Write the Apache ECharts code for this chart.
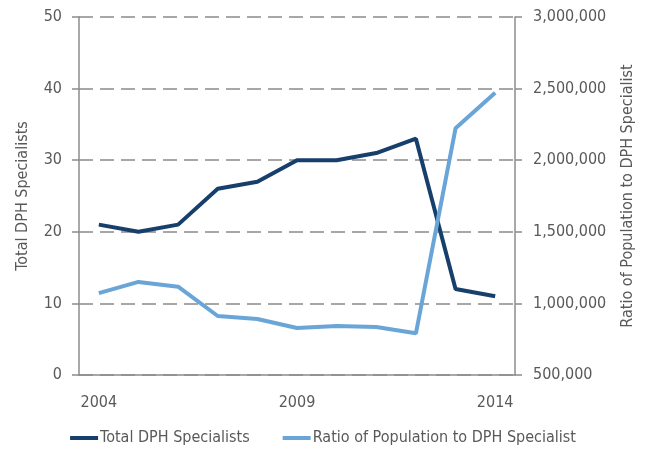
<!DOCTYPE html>
<html>
<head>
<meta charset="utf-8">
<script src="https://cdn.jsdelivr.net/npm/echarts@6/dist/echarts.min.js"></script>
<style>
  html, body { margin: 0; padding: 0; background: #fff; }
  #chart { width: 646px; height: 454px; }
</style>
</head>
<body>
<div id="chart"></div>
<script>
var years = ['2004', '2005', '2006', '2007', '2008', '2009', '2010', '2011', '2012', '2013', '2014']
var totalSpecialists = [21, 20, 21, 26, 27, 30, 30, 31, 33, 12, 11]
var populationRatio = [1072000, 1150000, 1117000, 912000, 891000, 828000, 842000, 835000, 791000, 2223000, 2471000]

var font = '"Liberation Sans Narrow", "DejaVu Sans Condensed", sans-serif'
var textColor = '#595959'
var axisColor = '#8c8c8c'

var chart = echarts.init(document.getElementById('chart'))
chart.setOption({
  animation: false,
  textStyle: { fontFamily: font, color: textColor },
  grid: { left: 79, right: 131, top: 17, bottom: 79 },
  legend: {
    bottom: 3,
    left: 'center',
    icon: 'rect',
    itemWidth: 28,
    itemHeight: 4,
    itemGap: 33,
    textStyle: { fontFamily: font, fontSize: 16, color: textColor, padding: [0, 0, 0, -3] },
    data: ['Total DPH Specialists', 'Ratio of Population to DPH Specialist']
  },
  xAxis: {
    type: 'category',
    data: years,
    boundaryGap: true,
    axisLine: { lineStyle: { color: axisColor, width: 1.5 } },
    axisTick: { interval: 4, length: 7, lineStyle: { color: axisColor, width: 1.5 } },
    axisLabel: { interval: 4, margin: 20, fontSize: 16, color: textColor, fontFamily: font }
  },
  yAxis: [{
    type: 'value',
    min: 0,
    max: 50,
    interval: 10,
    name: 'Total DPH Specialists',
    nameLocation: 'middle',
    nameGap: 48,
    nameTextStyle: { fontSize: 16, color: textColor, fontFamily: font },
    axisLine: { show: true, lineStyle: { color: axisColor, width: 1.5 } },
    axisTick: { show: true, length: 7, lineStyle: { color: axisColor, width: 1.5 } },
    axisLabel: { margin: 17, fontSize: 16, color: textColor, fontFamily: font },
    splitLine: { lineStyle: { color: '#8a8a8a', width: 1.5, type: [14, 7] } }
  }, {
    type: 'value',
    min: 500000,
    max: 3000000,
    interval: 500000,
    name: 'Ratio of Population to DPH Specialist',
    nameLocation: 'middle',
    nameGap: 105,
    nameRotate: 90,
    nameTextStyle: { fontSize: 16, color: textColor, fontFamily: font },
    axisLine: { show: true, lineStyle: { color: axisColor, width: 1.5 } },
    axisTick: { show: true, length: 7, lineStyle: { color: axisColor, width: 1.5 } },
    axisLabel: {
      margin: 18, fontSize: 16, color: textColor, fontFamily: font,
      formatter: function (v) { return v.toLocaleString('en-US') }
    },
    splitLine: { show: false }
  }],
  series: [{
    name: 'Total DPH Specialists',
    type: 'line',
    data: totalSpecialists,
    yAxisIndex: 0,
    symbol: 'none',
    lineStyle: { color: '#173f6b', width: 4 },
    itemStyle: { color: '#173f6b' }
  }, {
    name: 'Ratio of Population to DPH Specialist',
    type: 'line',
    data: populationRatio,
    yAxisIndex: 1,
    symbol: 'none',
    lineStyle: { color: '#6aa5d7', width: 4 },
    itemStyle: { color: '#6aa5d7' }
  }]
})
</script>
</body>
</html>
